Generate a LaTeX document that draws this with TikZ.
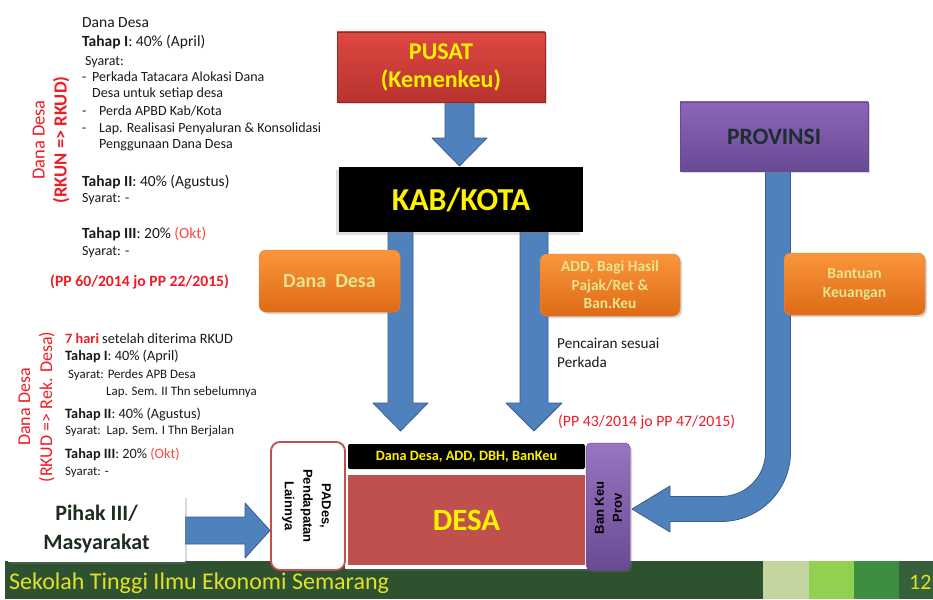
\documentclass[tikz,border=0pt]{standalone}
\usepackage{fontspec}
\setmainfont{Carlito}
\newfontfamily\arialfont{Liberation Sans}
\usetikzlibrary{shadows}
\definecolor{arrblue}{RGB}{79,129,189}
\definecolor{arrline}{RGB}{56,93,138}
\definecolor{orgtop}{RGB}{250,150,60}
\definecolor{orgbot}{RGB}{222,106,22}
\definecolor{orgtext}{RGB}{230,228,140}
\definecolor{redtop}{RGB}{222,72,66}
\definecolor{redbot}{RGB}{184,50,46}
\definecolor{purtop}{RGB}{140,102,185}
\definecolor{purbot}{RGB}{104,74,148}
\definecolor{desared}{RGB}{192,80,77}
\definecolor{dtext}{RGB}{26,26,26}
\definecolor{rtext}{RGB}{238,28,37}
\definecolor{oktred}{RGB}{255,70,70}
\definecolor{ftgreen}{RGB}{46,81,48}
\definecolor{sq1}{RGB}{196,214,160}
\definecolor{sq2}{RGB}{146,208,80}
\definecolor{sq3}{RGB}{62,142,65}
\definecolor{sq4}{RGB}{53,96,58}
\definecolor{fttext}{RGB}{225,225,40}
\definecolor{provtext}{RGB}{30,45,45}
\definecolor{pihtext}{RGB}{30,45,30}
\begin{document}
\begin{tikzpicture}[x=1pt,y=-1pt,
  box/.style={inner sep=0pt, align=center},
  blockarrow/.style={fill=arrblue, draw=arrline, line width=0.8pt, line join=round},
  orangebox/.style={box, rounded corners=7pt, top color=orgtop, bottom color=orgbot, draw=orgbot!80!white, line width=0.5pt, text=orgtext, font=\bfseries, drop shadow={opacity=0.3,shadow xshift=2pt,shadow yshift=-2pt}},
  txt/.style={anchor=base west, inner sep=0pt, text=dtext, font=\fontsize{15.5}{17}\selectfont},
  stxt/.style={anchor=base west, inner sep=0pt, text=dtext, font=\fontsize{14}{16}\selectfont},
  txtb/.style={anchor=base west, inner sep=0pt, text=dtext, font=\fontsize{14.3}{16}\selectfont},
  stxtb/.style={anchor=base west, inner sep=0pt, text=dtext, font=\fontsize{12.9}{15}\selectfont},
  rottxt/.style={inner sep=0pt, align=center, text=rtext, rotate=90, font=\fontsize{18.5}{22}\selectfont}
]
\useasboundingbox (0,0) rectangle (933,599);
\fill[white] (0,0) rectangle (933,599);

% footer
\fill[ftgreen] (5,561) rectangle (933,599);
\fill[sq1] (763,561) rectangle (809,599);
\fill[sq2] (809,561) rectangle (854,599);
\fill[sq3] (854,561) rectangle (899,599);
\fill[sq4] (899,561) rectangle (933,599);
\node[anchor=base west, inner sep=0pt, text=fttext, font=\fontsize{24}{26}\selectfont] (foot) at (9,589) {Sekolah Tinggi Ilmu Ekonomi Semarang};
\node[anchor=base west, inner sep=0pt, text=fttext, font=\fontsize{22}{24}\selectfont] (pageno) at (909,589) {12};

% block arrows (drawn beneath boxes)
\draw[blockarrow] (445,100) -- (445,138) -- (432,138) -- (459.5,166) -- (487,138) -- (474,138) -- (474,100) -- cycle;
\draw[blockarrow] (388,230) -- (388,403) -- (373,403) -- (400.5,431) -- (428,403) -- (413,403) -- (413,230) -- cycle;
\draw[blockarrow] (520,230) -- (520,403) -- (506,403) -- (534,431) -- (562,403) -- (548,403) -- (548,230) -- cycle;
\draw[blockarrow] (183,517) -- (245,517) -- (245,503) -- (270,530.5) -- (245,558) -- (245,544) -- (183,544) -- cycle;
\draw[blockarrow] (765.5,169) -- (765.5,452)
   .. controls (765.5,476.6) and (745.6,496.5) .. (721,496.5)
   -- (670,496.5) -- (670,486) -- (632,509) -- (670,532) -- (670,521.5) -- (721,521.5)
   .. controls (759.4,521.5) and (790.5,490.4) .. (790.5,452)
   -- (790.5,169) -- cycle;

% top boxes
\node[box, minimum width=208pt, minimum height=70pt, top color=redtop, bottom color=redbot, draw=redbot!80!black, line width=0.4pt, text=yellow, font=\fontsize{24}{28}\selectfont\bfseries, drop shadow={opacity=0.3,shadow xshift=2pt,shadow yshift=-2pt}] (pusat) at (441,67) {PUSAT\\(Kemenkeu)};
\node[box, minimum width=244pt, minimum height=65pt, fill=black, text=yellow, font=\fontsize{32}{34}\selectfont\bfseries, drop shadow={opacity=0.25,shadow xshift=-3pt,shadow yshift=-3pt}] (kab) at (461,199.5) {KAB/KOTA};
\node[box, minimum width=188pt, minimum height=69pt, top color=purtop, bottom color=purbot, draw=purbot, line width=0.4pt, text=provtext, font=\fontsize{23.5}{25}\selectfont\bfseries, drop shadow={opacity=0.3,shadow xshift=2pt,shadow yshift=-2pt}] (prov) at (774,136.5) {PROVINSI};

% orange boxes
\node[orangebox, minimum width=141pt, minimum height=62pt, font=\fontsize{20}{22}\selectfont\bfseries] (dana) at (329.5,281) {Dana~~Desa};
\node[orangebox, minimum width=140pt, minimum height=62pt, font=\fontsize{15.4}{18.5}\selectfont\bfseries] (add) at (610,285) {ADD, Bagi Hasil\\Pajak/Ret \&\\Ban.Keu};
\node[orangebox, minimum width=141pt, minimum height=62pt, font=\fontsize{15.5}{19}\selectfont\bfseries] (bantuan) at (854.5,284) {Bantuan\\Keuangan};

% notes near right arrow
\node[txt, font=\fontsize{15.2}{17}\selectfont] (cair1) at (557,348) {Pencairan sesuai};
\node[txt, font=\fontsize{15.2}{17}\selectfont] (cair2) at (557,367) {Perkada};
\node[txt, text=rtext, font=\fontsize{15.8}{17}\selectfont] (pp43) at (558,426) {(PP 43/2014 jo PP 47/2015)};

% DESA group
\node[box, minimum width=243pt, minimum height=128pt, fill=white, drop shadow={opacity=0.25,shadow xshift=1.5pt,shadow yshift=-1.5pt}] (desaouter) at (466.5,505) {};
\node[box, minimum width=237pt, minimum height=25pt, fill=black, rounded corners=2pt, text=yellow, font=\fontsize{14.3}{16}\selectfont\bfseries] (bar) at (466.5,456.5) {Dana Desa, ADD, DBH, BanKeu};
\node[box, minimum width=237pt, minimum height=90pt, fill=desared, text=yellow, font=\fontsize{31}{33}\selectfont\bfseries] (desa) at (466.5,520) {DESA};
\node[box, minimum width=74pt, minimum height=128pt, fill=white, draw=desared, line width=1.8pt, rounded corners=9pt] (pades) at (308,506) {};
\node[box, rotate=-90, font=\arialfont\fontsize{13}{18.5}\selectfont\bfseries, text=black] (padestxt) at (306.5,506) {PADes,\\Pendapatan\\Lainnya};
\node[box, minimum width=44pt, minimum height=127pt, top color=purtop!90!white, bottom color=purbot, draw=purbot, line width=0.5pt, rounded corners=5pt, drop shadow={opacity=0.3,shadow xshift=2pt,shadow yshift=-2pt}] (bankeu) at (608,506.5) {};
\node[box, rotate=90, font=\arialfont\fontsize{13}{18}\selectfont\bfseries, text=black] (bankeutxt) at (608.5,508) {Ban Keu\\Prov};

% Pihak III
\node[box, minimum width=177pt, minimum height=66pt, fill=white, text=pihtext, font=\fontsize{22}{29}\selectfont\bfseries, drop shadow={opacity=0.3,shadow xshift=2pt,shadow yshift=-2pt}] (pihak) at (96.5,529) {Pihak III/\\Masyarakat};

% left text block 1
\node[rottxt] (rot1) at (51,140) {Dana Desa\\\textbf{(RKUN => RKUD)}};
\node[txt] (l1) at (82,28) {Dana Desa};
\node[txt] (l2) at (82,47) {\textbf{Tahap I}: 40\% (April)};
\node[stxt] (l3) at (85,66) {Syarat:};
\node[stxt] (l4a) at (82,82) {-};
\node[stxt] (l4) at (92,82) {Perkada Tatacara Alokasi Dana};
\node[stxt] (l5) at (92,98) {Desa untuk setiap desa};
\node[stxt] (l6a) at (82,115) {-};
\node[stxt] (l6) at (99,115) {Perda APBD Kab/Kota};
\node[stxt] (l7a) at (82,132) {-};
\node[stxt] (l7) at (99,132) {Lap. Realisasi Penyaluran \& Konsolidasi};
\node[stxt] (l8) at (99,148) {Penggunaan Dana Desa};
\node[txt] (l9) at (82,186) {\textbf{Tahap II}: 40\% (Agustus)};
\node[stxt] (l10) at (82,202) {Syarat: -};
\node[txt] (l11) at (82,238) {\textbf{Tahap III}: 20\% \textcolor{oktred}{(Okt)}};
\node[stxt] (l12) at (82,255) {Syarat: -};
\node[txt, text=rtext, font=\fontsize{15.7}{17}\selectfont\bfseries] (pp60) at (50,286) {(PP 60/2014 jo PP 22/2015)};

% left text block 2
\node[rottxt, font=\fontsize{18}{22}\selectfont] (rot2) at (36.5,407) {Dana Desa\\(RKUD => Rek. Desa)};
\node[txtb] (m1) at (65,343) {\textcolor{rtext}{\textbf{7 hari}} setelah diterima RKUD};
\node[txtb] (m2) at (65,360) {\textbf{Tahap I}: 40\% (April)};
\node[stxtb] (m3) at (68,378) {Syarat: Perdes APB Desa};
\node[stxtb] (m4) at (106,395) {Lap. Sem. II Thn sebelumnya};
\node[txtb] (m5) at (65,418) {\textbf{Tahap II}: 40\% (Agustus)};
\node[stxtb] (m6) at (65,434) {Syarat:~~Lap. Sem. I Thn Berjalan};
\node[txtb] (m7) at (65,458) {\textbf{Tahap III}: 20\% \textcolor{oktred}{(Okt)}};
\node[stxtb] (m8) at (65,475) {Syarat: -};
\end{tikzpicture}
\end{document}
